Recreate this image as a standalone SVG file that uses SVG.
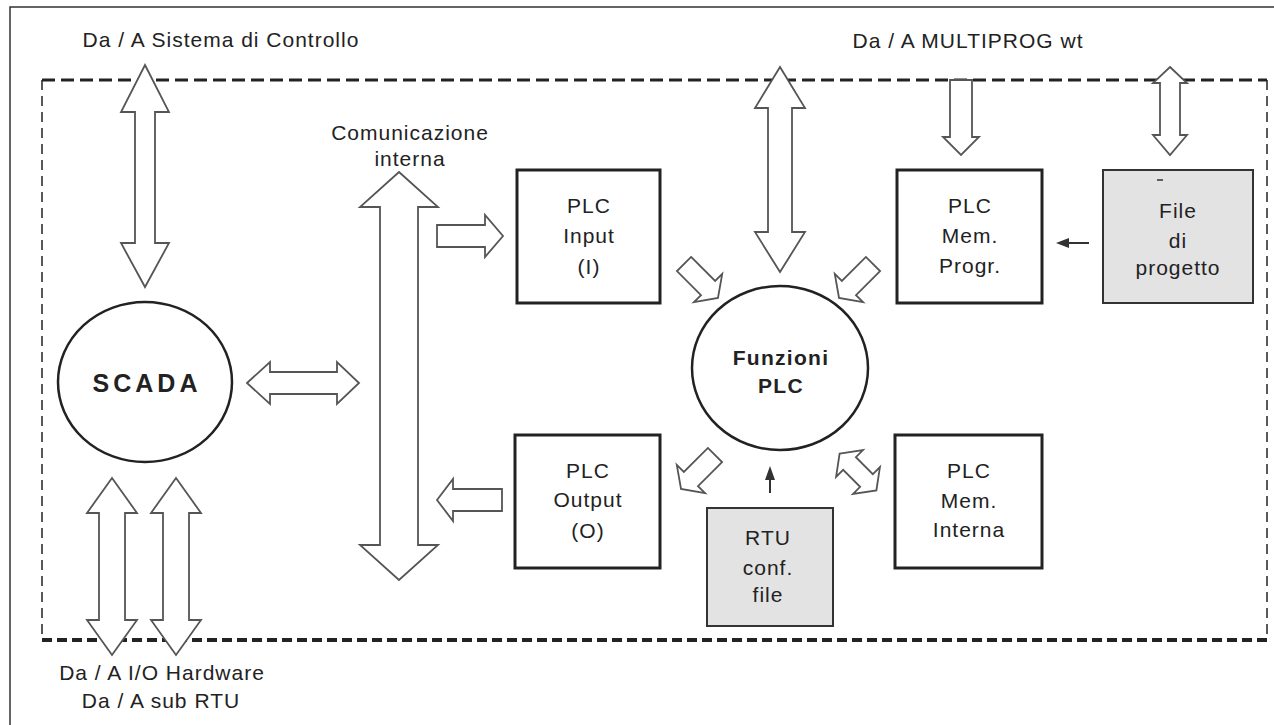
<svg xmlns="http://www.w3.org/2000/svg" width="1274" height="725" viewBox="0 0 1274 725">
<defs>
<style>
.t{font-family:"Liberation Sans",Arial,sans-serif;font-size:21px;fill:#222;letter-spacing:1px;text-anchor:middle}
.tb{font-family:"Liberation Sans",Arial,sans-serif;font-size:21px;font-weight:bold;fill:#222;letter-spacing:1.3px;text-anchor:middle}
.box{fill:#fff;stroke:#222;stroke-width:3}
.gbox{fill:#e3e3e3;stroke:#333;stroke-width:2}
.circ{fill:#fff;stroke:#222;stroke-width:2.5}
.ar{fill:#fff;stroke:#555;stroke-width:1.8;stroke-linejoin:miter}
</style>
<polygon id="sa" points="-24,-10 10,-10 10,-20 24,0 10,20 10,10 -24,10"/>
<polygon id="da" points="-26,0 -12,-19 -12,-9 12,-9 12,-19 26,0 12,19 12,9 -12,9 -12,19"/>
</defs>
<rect width="1274" height="725" fill="#fff"/>
<path d="M10,725 V7 H1274" fill="none" stroke="#333" stroke-width="1.5"/>
<g id="boundary" fill="none" stroke="#222">
<line x1="42" y1="80" x2="1267" y2="80" stroke-width="3" stroke-dasharray="13,6"/>
<line x1="42" y1="80" x2="42" y2="640" stroke-width="1.5" stroke-dasharray="10,6"/>
<line x1="1267" y1="80" x2="1267" y2="640" stroke-width="1.5" stroke-dasharray="10,6"/>
<line x1="42" y1="640" x2="1267" y2="640" stroke-width="4" stroke-dasharray="10,5"/>
</g>
<g id="labels">
<text class="t" x="221" y="47">Da / A Sistema di Controllo</text>
<text class="t" x="968" y="48">Da / A MULTIPROG wt</text>
<text class="t" x="410" y="140">Comunicazione</text>
<text class="t" x="410" y="166">interna</text>
<text class="t" x="162" y="680">Da / A I/O Hardware</text>
<text class="t" x="161" y="708">Da / A sub RTU</text>
</g>
<g id="connectors">
<polygon class="ar" points="145,65 169,112 155,112 155,243 169,243 145,287 121,243 135,243 135,112 121,112"/>
<polygon class="ar" points="247,383 270,362 270,372 337,372 337,362 359,383 337,404 337,394 270,394 270,404"/>
<polygon class="ar" points="112,478 137,513 125,513 125,620 137,620 112,655 87,620 99,620 99,513 87,513"/>
<polygon class="ar" points="176,478 201,513 189,513 189,620 201,620 176,655 151,620 163,620 163,513 151,513"/>
<polygon class="ar" points="399,172 438,207 418,207 418,545 438,545 399,580 360,545 380,545 380,207 360,207"/>
<polygon class="ar" points="437,225 485,225 485,215 503,236 485,257 485,247 437,247"/>
<polygon class="ar" points="437,500 453,479 453,489 502,489 502,511 453,511 453,521"/>
<polygon class="ar" points="780,67 805,108 792,108 792,232 805,232 780,272 755,232 768,232 768,108 755,108"/>
<polygon class="ar" points="950,80 972,80 972,137 979,137 961,155 943,137 950,137"/>
<polygon class="ar" points="1170,67 1187,83 1180,83 1180,135 1187,135 1170,155 1153,135 1160,135 1160,83 1153,83"/>
<use href="#sa" class="ar" transform="translate(701,281) rotate(45)"/>
<use href="#sa" class="ar" transform="translate(856,281) rotate(135)"/>
<use href="#sa" class="ar" transform="translate(698,472) rotate(135)"/>
<use href="#da" class="ar" transform="translate(858,472) rotate(45)"/>
<line x1="770" y1="493" x2="770" y2="478" stroke="#333" stroke-width="2"/>
<polygon points="770,466 765,480 775,480" fill="#333"/>
<line x1="1089" y1="243" x2="1067" y2="243" stroke="#333" stroke-width="2"/>
<polygon points="1056,243 1069,238 1069,248" fill="#333"/>
</g>
<g id="scada">
<ellipse class="circ" cx="145" cy="382" rx="87" ry="80"/>
<text class="tb" x="147" y="392" style="font-size:25px;letter-spacing:4px">SCADA</text>
</g>
<g id="funzioni">
<ellipse class="circ" cx="780" cy="368" rx="88" ry="82"/>
<text class="tb" x="781" y="365">Funzioni</text>
<text class="tb" x="781" y="393">PLC</text>
</g>
<g id="plc-input">
<rect class="box" x="517" y="170" width="143" height="133"/>
<text class="t" x="589" y="213">PLC</text>
<text class="t" x="589" y="243">Input</text>
<text class="t" x="589" y="274">(I)</text>
</g>
<g id="plc-output">
<rect class="box" x="515" y="435" width="145" height="133"/>
<text class="t" x="588" y="478">PLC</text>
<text class="t" x="588" y="507">Output</text>
<text class="t" x="588" y="538">(O)</text>
</g>
<g id="plc-mem-progr">
<rect class="box" x="897" y="170" width="145" height="133"/>
<text class="t" x="970" y="213">PLC</text>
<text class="t" x="970" y="243">Mem.</text>
<text class="t" x="970" y="273">Progr.</text>
</g>
<g id="plc-mem-interna">
<rect class="box" x="895" y="435" width="147" height="133"/>
<text class="t" x="969" y="478">PLC</text>
<text class="t" x="969" y="508">Mem.</text>
<text class="t" x="969" y="537">Interna</text>
</g>
<g id="file-progetto">
<rect class="gbox" x="1103" y="170" width="150" height="133"/>
<line x1="1157" y1="180" x2="1163" y2="180" stroke="#333" stroke-width="1.5"/>
<text class="t" x="1178" y="218">File</text>
<text class="t" x="1178" y="248">di</text>
<text class="t" x="1178" y="275">progetto</text>
</g>
<g id="rtu-conf">
<rect class="gbox" x="707" y="508" width="126" height="118"/>
<text class="t" x="768" y="545">RTU</text>
<text class="t" x="768" y="575">conf.</text>
<text class="t" x="768" y="602">file</text>
</g>
</svg>
